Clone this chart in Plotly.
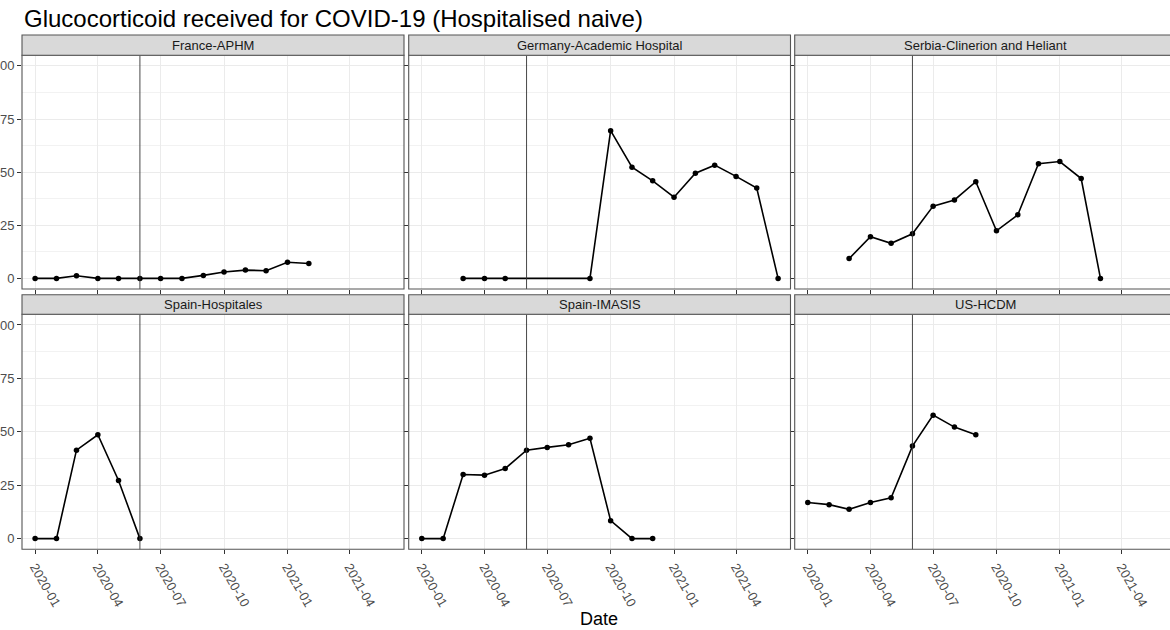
import plotly.graph_objects as go

# ---- data: monthly share (%) of hospitalised naive patients receiving glucocorticoids
sites = ["France-APHM", "Germany-Academic Hospital", "Serbia-Clinerion and Heliant",
         "Spain-Hospitales", "Spain-IMASIS", "US-HCDM"]

france_dates = ["2020-01", "2020-02", "2020-03", "2020-04", "2020-05", "2020-06", "2020-07",
                "2020-08", "2020-09", "2020-10", "2020-11", "2020-12", "2021-01", "2021-02"]
france_vals = [0, 0, 1.2, 0, 0, 0, 0, 0, 1.4, 3.0, 3.9, 3.6, 7.6, 7.0]

germany_dates = ["2020-03", "2020-04", "2020-05", "2020-09", "2020-10", "2020-11", "2020-12",
                 "2021-01", "2021-02", "2021-03", "2021-04", "2021-05", "2021-06"]
germany_vals = [0, 0, 0, 0, 69.5, 52.3, 45.9, 38.2, 49.5, 53.3, 48.0, 42.5, 0]

serbia_dates = ["2020-03", "2020-04", "2020-05", "2020-06", "2020-07", "2020-08", "2020-09",
                "2020-10", "2020-11", "2020-12", "2021-01", "2021-02", "2021-03"]
serbia_vals = [9.3, 19.6, 16.5, 21.0, 34.0, 36.9, 45.5, 22.4, 29.9, 54.0, 55.0, 47.0, 0]

hospitales_dates = ["2020-01", "2020-02", "2020-03", "2020-04", "2020-05", "2020-06"]
hospitales_vals = [0, 0, 41.4, 48.6, 27.2, 0]

imasis_dates = ["2020-01", "2020-02", "2020-03", "2020-04", "2020-05", "2020-06",
                "2020-07", "2020-08", "2020-09", "2020-10", "2020-11", "2020-12"]
imasis_vals = [0, 0, 30.0, 29.7, 32.8, 41.4, 42.7, 43.9, 47.0, 8.4, 0, 0]

us_dates = ["2020-01", "2020-02", "2020-03", "2020-04", "2020-05", "2020-06",
            "2020-07", "2020-08", "2020-09"]
us_vals = [16.9, 15.9, 13.7, 16.9, 19.1, 43.3, 57.8, 52.2, 48.6]

series = [(france_dates, france_vals), (germany_dates, germany_vals), (serbia_dates, serbia_vals),
          (hospitales_dates, hospitales_vals), (imasis_dates, imasis_vals), (us_dates, us_vals)]

x_tick_vals = ["2020-01-01", "2020-04-01", "2020-07-01", "2020-10-01", "2021-01-01", "2021-04-01"]
x_tick_text = ["2020-01", "2020-04", "2020-07", "2020-10", "2021-01", "2021-04"]
y_tick_vals = [0, 25, 50, 75, 100]
y_minor_vals = [12.5, 37.5, 62.5, 87.5]
cutoff_date = "2020-06-01"

W, H = 1170, 630
FONT = "Liberation Sans, Arial, sans-serif"

# panel geometry in pixels (left, right) and (top, bottom)
cols_px = [(22.0, 404.0), (408.7, 790.5), (794.7, 1176.5)]
rows_px = [(55.3, 289.0), (314.3, 549.3)]
strip_px = [(35.0, 55.3), (294.7, 314.3)]
x_range_full = ["2019-12-13", "2021-06-19"]
x_range_clipped = ["2019-12-13", "2021-06-10"]

fig = go.Figure()
shapes = []
annotations = []
layout_axes = {}

for i, (name, (d, v)) in enumerate(zip(sites, series)):
    r, c = divmod(i, 3)
    n = i + 1
    xa = "x" if n == 1 else f"x{n}"
    ya = "y" if n == 1 else f"y{n}"
    left, right = cols_px[c]
    top, bottom = rows_px[r]
    dom_x = [left / W, min(right / W, 1.0)]
    dom_y = [1 - bottom / H, 1 - top / H]

    fig.add_trace(go.Scatter(
        x=[s + "-01" for s in d], y=v, mode="lines+markers",
        line=dict(color="black", width=1.6),
        marker=dict(color="black", size=5.5),
        xaxis=xa, yaxis=ya, showlegend=False, hoverinfo="x+y"))

    layout_axes["xaxis" if n == 1 else f"xaxis{n}"] = dict(
        domain=dom_x, anchor=ya, type="date",
        range=x_range_clipped if c == 2 else x_range_full,
        tickmode="array", tickvals=x_tick_vals,
        ticktext=x_tick_text if r == 1 else [""] * len(x_tick_vals),
        showticklabels=(r == 1), tickangle=60,
        ticks="outside", ticklen=4, tickcolor="#333333", tickwidth=1,
        tickfont=dict(family=FONT, size=13, color="#4D4D4D"),
        showgrid=True, gridcolor="#EBEBEB", gridwidth=1,
        zeroline=False, showline=False, automargin=False, fixedrange=True)

    layout_axes["yaxis" if n == 1 else f"yaxis{n}"] = dict(
        domain=dom_y, anchor=xa, range=[-5, 105],
        tickmode="array", tickvals=y_tick_vals,
        showticklabels=(c == 0),
        ticks="outside", ticklen=4, tickcolor="#333333", tickwidth=1,
        tickfont=dict(family=FONT, size=13, color="#4D4D4D"),
        showgrid=True, gridcolor="#EBEBEB", gridwidth=1,
        minor=dict(tickmode="array", tickvals=y_minor_vals, showgrid=True,
                   gridcolor="#F2F2F2", gridwidth=0.8, ticks=""),
        zeroline=False, showline=False, automargin=False, fixedrange=True)

    # cutoff line
    shapes.append(dict(type="line", xref=xa, yref=f"{ya} domain",
                       x0=cutoff_date, x1=cutoff_date, y0=0, y1=1,
                       line=dict(color="#333333", width=0.9), layer="above"))
    # panel border
    shapes.append(dict(type="rect", xref="paper", yref="paper",
                       x0=left / W, x1=right / W, y0=1 - bottom / H, y1=1 - top / H,
                       line=dict(color="#555555", width=1.1), fillcolor="rgba(0,0,0,0)",
                       layer="above"))
    # strip
    st, sb = strip_px[r]
    shapes.append(dict(type="rect", xref="paper", yref="paper",
                       x0=left / W, x1=right / W, y0=1 - sb / H, y1=1 - st / H,
                       line=dict(color="#555555", width=1.1), fillcolor="#D9D9D9",
                       layer="above"))
    annotations.append(dict(text=name, xref="paper", yref="paper",
                            x=(left + right) / 2 / W, y=1 - (st + sb) / 2 / H,
                            xanchor="center", yanchor="middle", showarrow=False,
                            font=dict(family=FONT, size=13, color="#1A1A1A")))

annotations.append(dict(text="Glucocorticoid received for COVID-19 (Hospitalised naive)",
                        xref="paper", yref="paper", x=22 / W, y=1 - 18 / H,
                        xanchor="left", yanchor="middle", showarrow=False,
                        font=dict(family=FONT, size=24, color="black")))
annotations.append(dict(text="Date", xref="paper", yref="paper", x=599 / W, y=1 - 619 / H,
                        xanchor="center", yanchor="middle", showarrow=False,
                        font=dict(family=FONT, size=18, color="black")))

fig.update_layout(
    width=W, height=H, template="none",
    margin=dict(l=0, r=0, t=0, b=0, pad=0),
    paper_bgcolor="white", plot_bgcolor="white",
    shapes=shapes, annotations=annotations,
    font=dict(family=FONT),
    **layout_axes)

fig.write_html("out.html", config={"displayModeBar": False})
